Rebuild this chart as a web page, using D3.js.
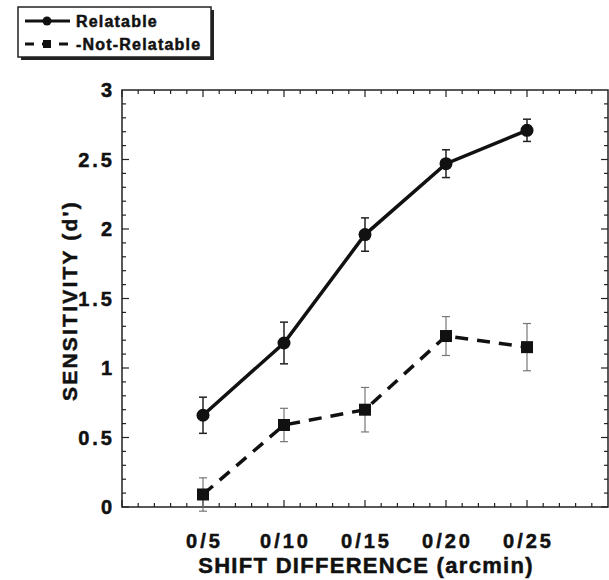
<!DOCTYPE html>
<html>
<head>
<meta charset="utf-8">
<script src="https://cdn.jsdelivr.net/npm/d3@7"></script>
<style>
body{margin:0;background:#fff;}
text{font-family:"Liberation Sans",Arial,sans-serif;font-weight:bold;fill:#111;stroke:#111;stroke-width:0.5px;}
</style>
</head>
<body>
<script>
var shifts=["0/5","0/10","0/15","0/20","0/25"]
var relatable=[0.66,1.18,1.96,2.47,2.71]
var relatableErr=[0.13,0.15,0.12,0.10,0.08]
var notRelatable=[0.09,0.59,0.70,1.23,1.15]
var notRelatableErr=[0.12,0.12,0.16,0.14,0.17]
var yTicks=[0,0.5,1,1.5,2,2.5,3]
var screen={width:609,height:580};
var margin={left:122,right:1,top:90,bottom:73};

var svg=d3.select("body").append("svg")
  .attr("width",screen.width)
  .attr("height",screen.height)

var x=d3.scaleLinear().domain([0,6]).range([margin.left,screen.width-margin.right])
var y=d3.scaleLinear().domain([0,3]).range([screen.height-margin.bottom,margin.top])

//////////////////////////////////////////////////////
// frame and ticks
svg.append("rect")
  .attr("x",x(0)).attr("y",y(3))
  .attr("width",x(6)-x(0)).attr("height",y(0)-y(3))
  .attr("fill","none").attr("stroke","#222").attr("stroke-width",1.5)

var xMinor=d3.range(0,30).map(function(d){return d/5})
var yMinor=d3.range(0,30).map(function(d){return d/10})
xMinor.forEach(function(d){
  var len=(Math.abs(d-Math.round(d))<1e-6)?7:4
  svg.append("line").attr("x1",x(d)).attr("x2",x(d)).attr("y1",y(0)).attr("y2",y(0)-len).attr("stroke","#222").attr("stroke-width",1.2)
  svg.append("line").attr("x1",x(d)).attr("x2",x(d)).attr("y1",y(3)).attr("y2",y(3)+len).attr("stroke","#222").attr("stroke-width",1.2)
})
yMinor.forEach(function(d){
  var len=(Math.abs(d*2-Math.round(d*2))<1e-6)?7:4
  svg.append("line").attr("y1",y(d)).attr("y2",y(d)).attr("x1",x(0)).attr("x2",x(0)+len).attr("stroke","#222").attr("stroke-width",1.2)
  svg.append("line").attr("y1",y(d)).attr("y2",y(d)).attr("x1",x(6)).attr("x2",x(6)-len).attr("stroke","#222").attr("stroke-width",1.2)
})

svg.selectAll("text.ylab")
  .data(yTicks)
  .enter()
  .append("text")
  .attr("class","ylab")
  .attr("x",x(0)-7)
  .attr("y",function(d){return y(d)+7})
  .style("text-anchor","end")
  .style("font-size","20px")
  .style("letter-spacing","3px")
  .text(function(d){return d})

svg.selectAll("text.xlab")
  .data(shifts)
  .enter()
  .append("text")
  .attr("class","xlab")
  .attr("x",function(d,i){return x(i+1)+1.5})
  .attr("y",y(0)+41)
  .style("text-anchor","middle")
  .style("font-size","20px")
  .style("letter-spacing","3px")
  .text(function(d){return d})

svg.append("text")
  .attr("x",366).attr("y",573)
  .style("text-anchor","middle")
  .style("font-size","22px")
  .style("letter-spacing","1.3px")
  .text("SHIFT DIFFERENCE (arcmin)")

svg.append("text")
  .attr("transform","translate(77,"+((y(0)+y(3))/2+2)+") rotate(-90)")
  .style("text-anchor","middle")
  .style("font-size","21px")
  .style("letter-spacing","2.2px")
  .text("SENSITIVITY (d')")

//////////////////////////////////////////////////////
// error bars
function drawErr(vals,errs,col,w){
  vals.forEach(function(v,i){
    var cx=x(i+1)
    svg.append("line").attr("x1",cx).attr("x2",cx).attr("y1",y(v+errs[i])).attr("y2",y(v-errs[i])).attr("stroke",col).attr("stroke-width",w)
    svg.append("line").attr("x1",cx-4).attr("x2",cx+4).attr("y1",y(v+errs[i])).attr("y2",y(v+errs[i])).attr("stroke",col).attr("stroke-width",w)
    svg.append("line").attr("x1",cx-4).attr("x2",cx+4).attr("y1",y(v-errs[i])).attr("y2",y(v-errs[i])).attr("stroke",col).attr("stroke-width",w)
  })
}
drawErr(relatable,relatableErr,"#222",1.5)
drawErr(notRelatable,notRelatableErr,"#777",1.2)

var line=d3.line()
  .x(function(d,i){return x(i+1)})
  .y(function(d){return y(d)})

svg.append("path")
  .attr("d",line(relatable))
  .attr("fill","none").attr("stroke","#111").attr("stroke-width",3.5)

svg.append("path")
  .attr("d",line(notRelatable))
  .attr("fill","none").attr("stroke","#111").attr("stroke-width",3.5)
  .attr("stroke-dasharray","13,9")

svg.selectAll("circle.rel")
  .data(relatable)
  .enter()
  .append("circle")
  .attr("class","rel")
  .attr("cx",function(d,i){return x(i+1)})
  .attr("cy",function(d){return y(d)})
  .attr("r",6.5)
  .attr("fill","#111")

svg.selectAll("rect.nrel")
  .data(notRelatable)
  .enter()
  .append("rect")
  .attr("class","nrel")
  .attr("x",function(d,i){return x(i+1)-6})
  .attr("y",function(d){return y(d)-6})
  .attr("width",12).attr("height",12)
  .attr("fill","#111")

//////////////////////////////////////////////////////
// legend
svg.append("rect").attr("x",21).attr("y",10).attr("width",193).attr("height",50).attr("fill","#222")
svg.append("rect").attr("x",18).attr("y",7).attr("width",193).attr("height",50).attr("fill","#fff").attr("stroke","#222").attr("stroke-width",1.5)
svg.append("line").attr("x1",25).attr("x2",70).attr("y1",21).attr("y2",21).attr("stroke","#111").attr("stroke-width",3)
svg.append("circle").attr("cx",47).attr("cy",21).attr("r",4.5).attr("fill","#111")
svg.append("line").attr("x1",25).attr("x2",72).attr("y1",44).attr("y2",44).attr("stroke","#111").attr("stroke-width",3).attr("stroke-dasharray","9,8")
svg.append("rect").attr("x",43).attr("y",40).attr("width",8).attr("height",8).attr("fill","#111")
svg.append("text").attr("x",76).attr("y",27).style("font-size","16px").style("letter-spacing","1.2px").text("Relatable")
svg.append("text").attr("x",76).attr("y",50).style("font-size","16px").style("letter-spacing","1.2px").text("-Not-Relatable")
</script>
</body>
</html>
